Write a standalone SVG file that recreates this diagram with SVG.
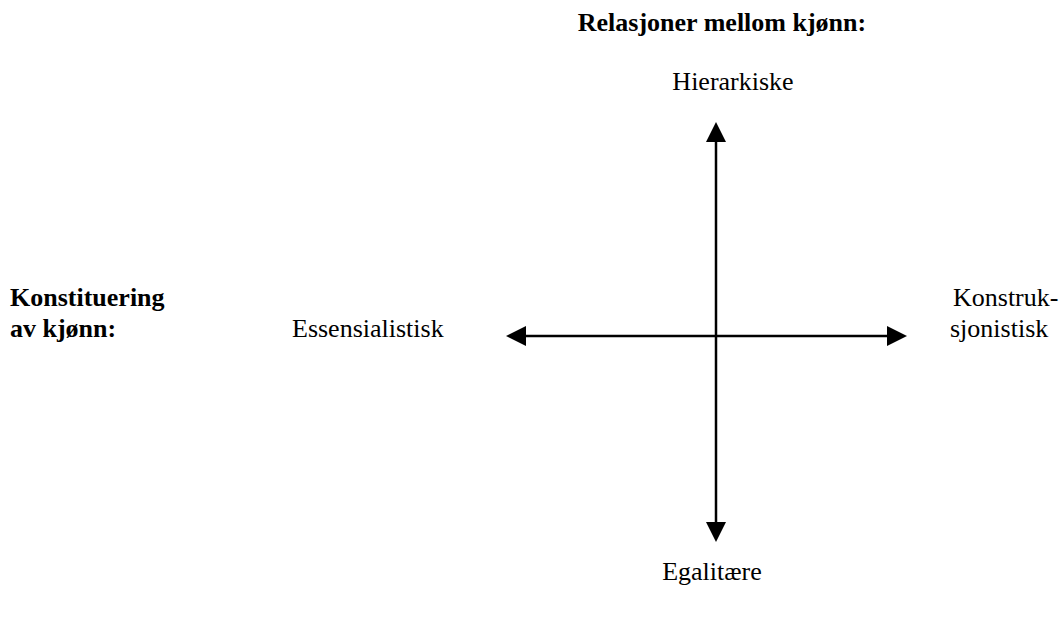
<svg xmlns="http://www.w3.org/2000/svg" width="1062" height="619" viewBox="0 0 1062 619">
<style>
text{font-family:"Liberation Serif","Times New Roman",serif;font-size:26px;fill:#000}
.b{font-weight:bold}
.ax{stroke:#000;stroke-width:2.5;fill:none}
</style>
<defs>
<marker id="ah" viewBox="0 0 20 20" refX="0" refY="10" markerWidth="20" markerHeight="20" markerUnits="userSpaceOnUse" orient="auto">
<path d="M0,0 L20,10 L0,20 Z" fill="#000"/>
</marker>
</defs>
<rect width="1062" height="619" fill="#fff"/>
<g id="connectors">
<line class="ax" x1="716" y1="330" x2="716" y2="142" marker-end="url(#ah)"/>
<line class="ax" x1="716" y1="330" x2="716" y2="522" marker-end="url(#ah)"/>
<line class="ax" x1="716" y1="336" x2="526" y2="336" marker-end="url(#ah)"/>
<line class="ax" x1="716" y1="336" x2="887" y2="336" marker-end="url(#ah)"/>
</g>
<g id="title"><text class="b" x="722" y="31" text-anchor="middle">Relasjoner mellom kjønn:</text></g>
<g id="hierarkiske"><text x="733" y="90" text-anchor="middle">Hierarkiske</text></g>
<g id="egalitaere"><text x="712" y="580" text-anchor="middle">Egalitære</text></g>
<g id="konstituering"><text class="b" x="10" y="306">Konstituering</text><text class="b" x="10" y="337">av kjønn:</text></g>
<g id="essensialistisk"><text x="292" y="337">Essensialistisk</text></g>
<g id="konstruksjonistisk"><text x="953" y="306">Konstruk-</text><text x="950" y="337">sjonistisk</text></g>
</svg>
